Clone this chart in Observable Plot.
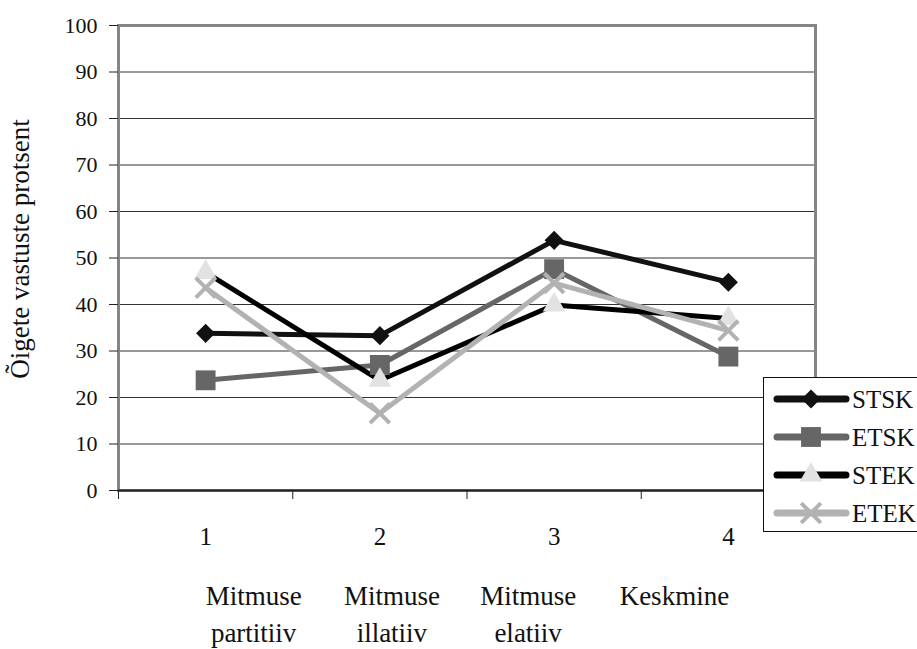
<!DOCTYPE html>
<html>
<head>
<meta charset="utf-8">
<script src="https://cdn.jsdelivr.net/npm/d3@7"></script>
<script src="https://cdn.jsdelivr.net/npm/@observablehq/plot@0.6"></script>
<style>
  html, body { margin: 0; padding: 0; background: #fff; overflow: hidden; }
  #wrap { position: relative; width: 917px; height: 649px; }
  #wrap svg, #wrap svg text { font-family: 'Liberation Serif', 'Times New Roman', serif !important; }
  #legend {
    position: absolute; left: 763px; top: 377px; width: 170px; height: 155px;
    border: 1px solid #111; background: #fff; box-sizing: border-box;
  }
</style>
</head>
<body>
<div id="wrap"><div id="legend"></div></div>
<script>
// Question groups (x positions) and their names
const categories = [1, 2, 3, 4];
const categoryNames = ["Mitmuse\npartitiiv", "Mitmuse\nillatiiv", "Mitmuse\nelatiiv", "Keskmine"];

// Series: share of correct answers (%)
const seriesNames = ["STSK", "ETSK", "STEK", "ETEK"];
const STSK = [33.8, 33.3, 53.8, 44.8];
const ETSK = [23.7, 27.0, 47.6, 28.8];
const STEK = [46.9, 23.7, 39.9, 37.0];
const ETEK = [43.6, 16.6, 44.6, 34.4];

const yTicks = [0, 10, 20, 30, 40, 50, 60, 70, 80, 90, 100];
const yTitle = "Õigete vastuste protsent";

// Styling per series
const lineColor   = {STSK: "#111", ETSK: "#666", STEK: "#000", ETEK: "#b2b2b2"};
const markColor   = {STSK: "#111", ETSK: "#666", STEK: "#e2e2e2", ETEK: "#b2b2b2"};
const markSymbol  = {STSK: "diamond2", ETSK: "square", STEK: "triangle", ETEK: "times"};
const markR       = {STSK: 8.6, ETSK: 11.2, STEK: 8.4, ETEK: 9};
// horizontal shift of each group name relative to its category
const nameShift = [48, 12, -26, -54];

const values = {STSK, ETSK, STEK, ETEK};
const rows = seriesNames.flatMap(s => categories.map((c, i) => ({series: s, x: c, y: values[s][i]})));
const boundaries = [0.5, 1.5, 2.5, 3.5, 4.5];
const font = "'Liberation Serif', 'Times New Roman', serif";

const marks = [
  Plot.gridY(yTicks, {stroke: "#333", strokeOpacity: 1, strokeWidth: 1}),
  Plot.frame({stroke: "#858585", strokeWidth: 3}),
  Plot.ruleY([0], {stroke: "#222", strokeWidth: 2}),
  Plot.axisY(yTicks, {tickSize: 9, tickPadding: 12, fontSize: 22, fontFamily: font, label: null, stroke: "#222"}),
  Plot.axisX(boundaries, {tickSize: 9, tickFormat: () => "", label: null, stroke: "#222"}),
  Plot.axisX(categories, {tickSize: 0, tickPadding: 37, fontSize: 25, fontFamily: font, label: null, tickFormat: d => String(d)})
];

for (const s of seriesNames) {
  marks.push(Plot.line(rows.filter(d => d.series === s), {
    x: "x", y: "y", stroke: lineColor[s], strokeWidth: 5, strokeLinejoin: "round"
  }));
}
for (const s of seriesNames) {
  const data = rows.filter(d => d.series === s);
  if (markSymbol[s] === "times") {
    marks.push(Plot.dot(data, {x: "x", y: "y", symbol: "times", r: markR[s], stroke: markColor[s], strokeWidth: 4}));
  } else {
    marks.push(Plot.dot(data, {x: "x", y: "y", symbol: markSymbol[s], r: markR[s], fill: markColor[s], stroke: "none"}));
  }
}

categoryNames.forEach((name, i) => {
  marks.push(Plot.text([name], {
    x: [categories[i]], text: d => d, frameAnchor: "bottom", dy: 88, dx: nameShift[i],
    lineAnchor: "top", lineHeight: 1.37, fontSize: 27, fontFamily: font, fill: "#111"
  }));
});

marks.push(Plot.text([yTitle], {
  frameAnchor: "left", textAnchor: "middle", rotate: -90, dx: -98, dy: -9,
  fontSize: 27, fontFamily: font, fill: "#111"
}));

const chart = Plot.plot({
  width: 917, height: 649,
  marginLeft: 118, marginRight: 102, marginTop: 25, marginBottom: 159,
  style: {fontFamily: font, background: "white", color: "#111", overflow: "visible"},
  x: {domain: [0.5, 4.5], axis: null},
  y: {domain: [0, 100], axis: null},
  marks
});
document.getElementById("wrap").prepend(chart);

// Legend box
const lg = d3.select("#legend").append("svg")
  .attr("width", 170).attr("height", 155)
  .style("font-family", font);
seriesNames.forEach((s, i) => {
  const y = 21 + i * 38;
  const g = lg.append("g").attr("transform", `translate(0,${y})`);
  g.append("line").attr("x1", 13).attr("x2", 82).attr("y1", 0).attr("y2", 0)
    .attr("stroke", lineColor[s]).attr("stroke-width", 7).attr("stroke-linecap", "round");
  const symbols = {diamond2: d3.symbolDiamond2, square: d3.symbolSquare, triangle: d3.symbolTriangle, times: d3.symbolTimes};
  const size = Math.PI * markR[s] * markR[s];
  const p = g.append("path").attr("transform", "translate(47,0)")
    .attr("d", d3.symbol(symbols[markSymbol[s]], size)());
  if (markSymbol[s] === "times") p.attr("fill", "none").attr("stroke", markColor[s]).attr("stroke-width", 4);
  else p.attr("fill", markColor[s]);
  g.append("text").attr("x", 88).attr("y", 0).attr("dy", "0.35em")
    .attr("font-size", 25).attr("fill", "#111").text(s);
});
</script>
</body>
</html>
